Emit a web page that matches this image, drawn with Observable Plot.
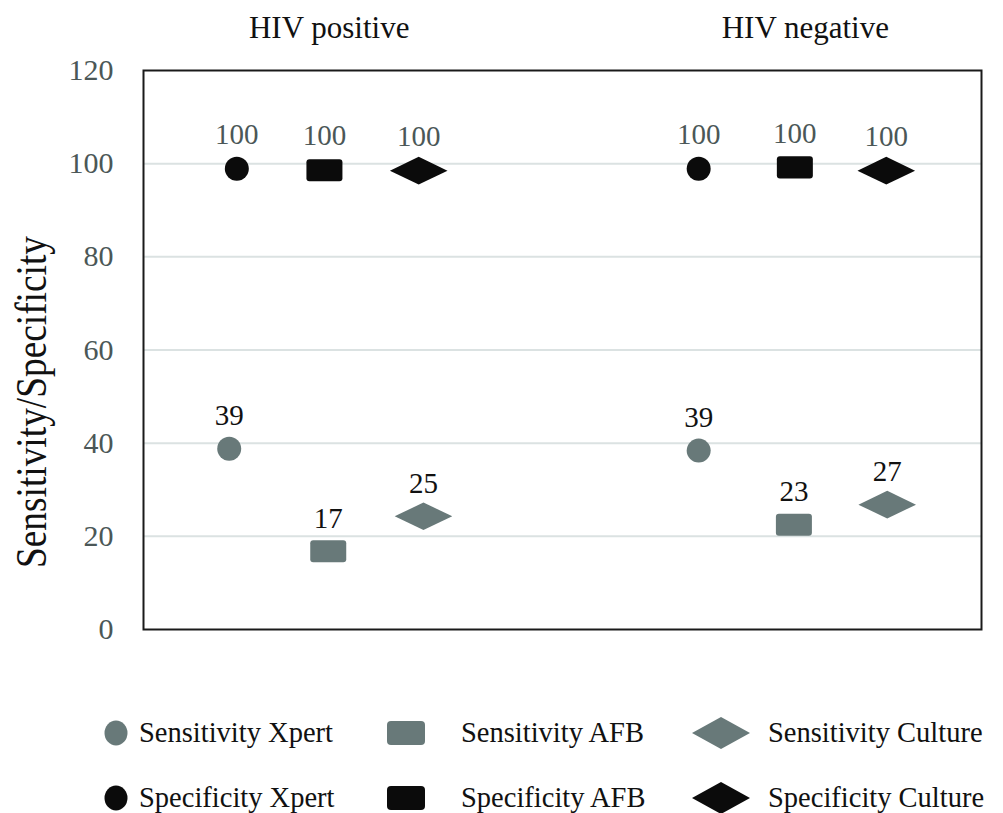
<!DOCTYPE html>
<html>
<head>
<meta charset="utf-8">
<script src="https://cdn.jsdelivr.net/npm/d3@7"></script>
<script src="https://cdn.jsdelivr.net/npm/@observablehq/plot@0.6"></script>
<style>
  html, body { margin: 0; padding: 0; background: #fff; }
  #wrap { position: relative; width: 1003px; height: 813px; font-family: "Liberation Serif", "Times New Roman", serif; }
  #chart { position: absolute; left: 0; top: 0; }
  #chart svg, #chart svg text { font-family: "Liberation Serif", "Times New Roman", serif !important; }
  .leg { position: absolute; font-size: 28.5px; color: #111; line-height: 1; white-space: nowrap; transform: translateY(-50%); }
  .sym { position: absolute; transform: translate(-50%, -50%); }
</style>
</head>
<body>
<div id="wrap"><div id="chart"></div><div id="legend"></div></div>
<script>
// ---- data ----
const groups = ["HIV positive", "HIV negative"];
const groupCenterX = [2.05, 7.05];
const tests = ["Xpert", "AFB", "Culture"];
const measures = ["Sensitivity", "Specificity"];

// x positions of each marker (per group, per test)
const xSensPos = [1.00, 2.04, 3.04];
const xSpecPos = [1.08, 2.00, 2.99];
const xSensNeg = [5.93, 6.93, 7.91];
const xSpecNeg = [5.93, 6.94, 7.90];

const sensitivityPos = [38.8, 16.8, 24.3];
const specificityPos = [98.9, 98.6, 98.5];
const sensitivityNeg = [38.4, 22.5, 26.8];
const specificityNeg = [98.9, 99.2, 98.5];

const sensLabelsPos = ["39", "17", "25"];
const specLabelsPos = ["100", "100", "100"];
const sensLabelsNeg = ["39", "23", "27"];
const specLabelsNeg = ["100", "100", "100"];

const yTicks = [0, 20, 40, 60, 80, 100, 120];
const yLabel = "Sensitivity/Specificity";

// ---- build table ----
const rows = [];
function add(group, measure, xs, vals, labels) {
  tests.forEach((t, i) => rows.push({group, test: t, measure, x: xs[i], value: vals[i], label: labels[i]}));
}
add(groups[0], "Sensitivity", xSensPos, sensitivityPos, sensLabelsPos);
add(groups[0], "Specificity", xSpecPos, specificityPos, specLabelsPos);
add(groups[1], "Sensitivity", xSensNeg, sensitivityNeg, sensLabelsNeg);
add(groups[1], "Specificity", xSpecNeg, specificityNeg, specLabelsNeg);

const GRAY = "#687979";
const BLACK = "#0b0b0b";
const LABELGRAY = "#4b5757";
const FONT = "Liberation Serif";

// custom symbols (size = r*r*PI)
const circleSym = { draw(ctx, size) { const r = Math.sqrt(size / Math.PI); ctx.moveTo(r, 0); ctx.arc(0, 0, r, 0, 2 * Math.PI); } };
const rectSym = { draw(ctx, size) {
  const s = Math.sqrt(size / Math.PI); const w = 1.5 * s, h = 0.92 * s, c = 0.25 * s;
  ctx.moveTo(-w + c, -h); ctx.lineTo(w - c, -h); ctx.arcTo(w, -h, w, -h + c, c);
  ctx.lineTo(w, h - c); ctx.arcTo(w, h, w - c, h, c); ctx.lineTo(-w + c, h);
  ctx.arcTo(-w, h, -w, h - c, c); ctx.lineTo(-w, -h + c); ctx.arcTo(-w, -h, -w + c, -h, c); ctx.closePath();
} };
const diamondSym = { draw(ctx, size) {
  const s = Math.sqrt(size / Math.PI); const w = 2.4 * s, h = 1.15 * s;
  ctx.moveTo(0, -h); ctx.lineTo(w, 0); ctx.lineTo(0, h); ctx.lineTo(-w, 0); ctx.closePath();
} };
const symByTest = {Xpert: circleSym, AFB: rectSym, Culture: diamondSym};

const chart = Plot.plot({
  width: 1003,
  height: 680,
  marginLeft: 143,
  marginRight: 22,
  marginTop: 70,
  marginBottom: 51,
  style: {fontFamily: FONT, background: "white"},
  x: {domain: [0.1, 8.9], axis: null},
  y: {domain: [0, 120], axis: null},
  color: {domain: measures, range: [GRAY, BLACK]},
  marks: [
    Plot.gridY(yTicks.filter(d => d > 0 && d < 120), {stroke: "#dbe2e2", strokeOpacity: 1, strokeWidth: 2}),
    Plot.axisY(yTicks, {tickSize: 0, tickPadding: 30, fontSize: 30, fontFamily: FONT, fill: LABELGRAY, label: null}),
    Plot.frame({stroke: "#1a1a1a", strokeWidth: 2}),
    ...tests.map(t => Plot.dot(rows.filter(d => d.test === t), {
      x: "x", y: "value", fill: "measure", r: 12, symbol: symByTest[t], stroke: "none"
    })),
    Plot.text(rows.filter(d => d.measure === "Sensitivity"), {x: "x", y: "value", text: "label", dy: -33, fontSize: 29, fontFamily: FONT, fill: "#111"}),
    Plot.text(rows.filter(d => d.measure === "Specificity"), {x: "x", y: "value", text: "label", dy: -34, fontSize: 29, fontFamily: FONT, fill: LABELGRAY}),
    Plot.text(groups.map((g, i) => ({g, x: groupCenterX[i]})), {x: "x", text: "g", frameAnchor: "top", dy: -55, fontSize: 31, fontFamily: FONT, fill: "#111"}),
    Plot.text([yLabel], {text: d => d, frameAnchor: "left", textAnchor: "middle", rotate: -90, dx: -112, dy: 52, fontSize: 44, fontFamily: FONT, fill: "#111"})
  ]
});
// condense the y-axis title to the reference's length
chart.querySelectorAll("text").forEach(t => {
  if (t.textContent === yLabel) { t.setAttribute("textLength", 332); t.setAttribute("lengthAdjust", "spacingAndGlyphs"); }
});
document.getElementById("chart").appendChild(chart);

// ---- legend ----
const legendCols = [
  {test: "Xpert", symX: 116, textX: 139},
  {test: "AFB", symX: 406, textX: 461},
  {test: "Culture", symX: 721, textX: 768}
];
const legendRows = [{measure: "Sensitivity", y: 733}, {measure: "Specificity", y: 798}];
const leg = document.getElementById("legend");
function symSvg(test, color) {
  if (test === "Xpert") return `<svg width="26" height="26"><ellipse cx="13" cy="13" rx="11.5" ry="12.5" fill="${color}"/></svg>`;
  if (test === "AFB") return `<svg width="40" height="26"><rect x="1" y="1" width="38" height="24" rx="4" fill="${color}"/></svg>`;
  return `<svg width="60" height="34"><polygon points="30,1 59,17 30,33 1,17" fill="${color}"/></svg>`;
}
legendRows.forEach(r => {
  legendCols.forEach(c => {
    const color = r.measure === "Sensitivity" ? GRAY : BLACK;
    const s = document.createElement("div");
    s.className = "sym"; s.style.left = c.symX + "px"; s.style.top = r.y + "px";
    s.innerHTML = symSvg(c.test, color);
    s.firstChild.style.display = "block";
    leg.appendChild(s);
    const t = document.createElement("div");
    t.className = "leg"; t.style.left = c.textX + "px"; t.style.top = r.y + "px";
    t.textContent = `${r.measure} ${c.test}`;
    leg.appendChild(t);
  });
});
</script>
</body>
</html>
